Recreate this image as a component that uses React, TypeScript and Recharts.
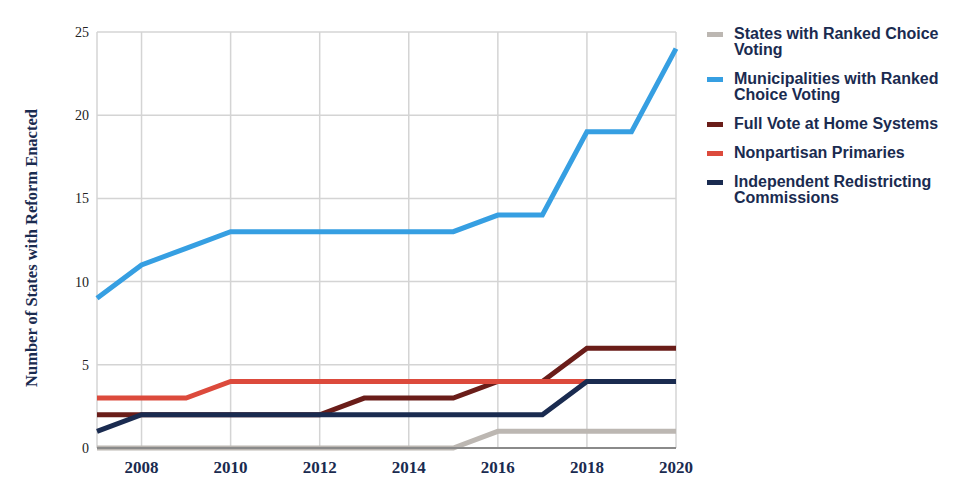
import { LineChart, Line, XAxis, YAxis, CartesianGrid } from 'recharts';

const years = [2007, 2008, 2009, 2010, 2011, 2012, 2013, 2014, 2015, 2016, 2017, 2018, 2019, 2020];
const statesRcv = [0, 0, 0, 0, 0, 0, 0, 0, 0, 1, 1, 1, 1, 1];
const municipalRcv = [9, 11, 12, 13, 13, 13, 13, 13, 13, 14, 14, 19, 19, 24];
const voteAtHome = [2, 2, 2, 2, 2, 2, 3, 3, 3, 4, 4, 6, 6, 6];
const nonpartisan = [3, 3, 3, 4, 4, 4, 4, 4, 4, 4, 4, 4, 4, 4];
const redistricting = [1, 2, 2, 2, 2, 2, 2, 2, 2, 2, 2, 4, 4, 4];

const xTicks = [2008, 2010, 2012, 2014, 2016, 2018, 2020];
const yTicks = [0, 5, 10, 15, 20, 25];

const series = [
  { key: 'statesRcv', name: 'States with Ranked Choice\nVoting', color: '#bcb7b2', values: statesRcv },
  { key: 'municipalRcv', name: 'Municipalities with Ranked\nChoice Voting', color: '#369fe2', values: municipalRcv },
  { key: 'voteAtHome', name: 'Full Vote at Home Systems', color: '#6a1d19', values: voteAtHome },
  { key: 'nonpartisan', name: 'Nonpartisan Primaries', color: '#dc4a3c', values: nonpartisan },
  { key: 'redistricting', name: 'Independent Redistricting\nCommissions', color: '#1a2b50', values: redistricting },
];

const data = years.map((year, i) => {
  const row: Record<string, number> = { year };
  series.forEach((s) => {
    row[s.key] = s.values[i];
  });
  return row;
});

const navy = '#1a2b50';

function LegendList() {
  return (
    <div
      style={{
        position: 'absolute',
        left: 699,
        top: 18,
        width: 260,
        fontFamily: '"Liberation Sans", Arial, sans-serif',
        fontWeight: 700,
        fontSize: 16,
        color: navy,
      }}
    >
      {series.map((s) => (
        <div key={s.key} style={{ display: 'flex', alignItems: 'flex-start', marginBottom: 13 }}>
          <div style={{ width: 16, height: 5, background: s.color, marginTop: 6, marginRight: 11, flexShrink: 0 }} />
          <div style={{ whiteSpace: 'pre-line', lineHeight: '16px' }}>{s.name}</div>
        </div>
      ))}
    </div>
  );
}

export default function App() {
  return (
    <div style={{ width: 964, height: 489, position: 'relative' }}>
      <LineChart width={964} height={489} data={data} margin={{ top: 24, right: 296, left: 29, bottom: 19 }}>
        <CartesianGrid stroke="#d4d4d4" strokeWidth={1.5} />
        <XAxis
          dataKey="year"
          type="number"
          domain={[2007, 2020]}
          ticks={xTicks}
          height={30}
          axisLine={{ stroke: '#8a8a8a', strokeWidth: 2 }}
          tickLine={false}
          tickMargin={7}
          tick={{ fontFamily: '"Liberation Serif", serif', fontWeight: 700, fontSize: 17, fill: navy }}
        />
        <YAxis
          type="number"
          domain={[0, 25]}
          ticks={yTicks}
          width={60}
          axisLine={false}
          tickLine={false}
          tickSize={0}
          tickMargin={8}
          tick={{ fontFamily: '"Liberation Serif", serif', fontSize: 14, fill: '#222' }}
          label={{
            content: () => (
              <text
                x={25}
                y={240}
                transform="rotate(-90 25 240)"
                textAnchor="middle"
                dominantBaseline="middle"
                fontFamily='"Liberation Serif", serif'
                fontWeight={700}
                fontSize={16.5}
                fill={navy}
              >
                Number of States with Reform Enacted
              </text>
            ),
          }}
        />
        {series.map((s) => (
          <Line
            key={s.key}
            dataKey={s.key}
            name={s.name}
            type="linear"
            stroke={s.color}
            strokeWidth={5}
            dot={false}
            activeDot={false}
            strokeLinejoin="miter"
            isAnimationActive={false}
          />
        ))}
      </LineChart>
      <LegendList />
    </div>
  );
}
